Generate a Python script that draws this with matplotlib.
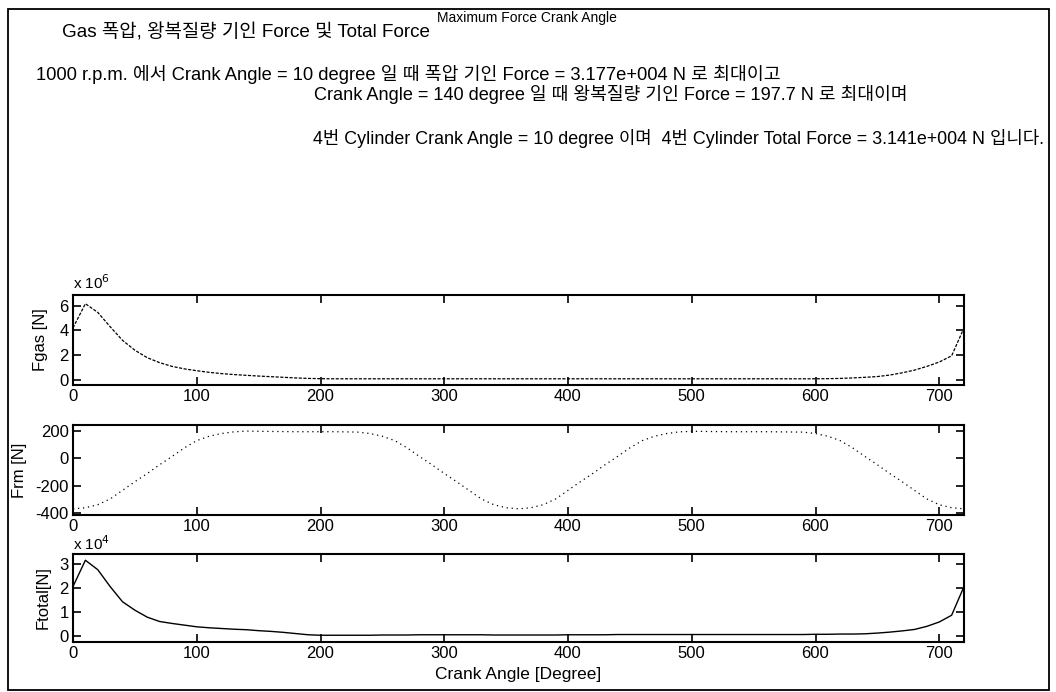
import numpy as np
import matplotlib
matplotlib.use("Agg")
import matplotlib.pyplot as plt
from matplotlib.patches import Rectangle

# ---------------- data ----------------
crank_angle = list(range(0, 721, 10))  # degree

# gas force axis values, in units of 1e6
fgas_e6 = [4.2, 6.15, 5.45, 4.3, 3.2, 2.4, 1.8, 1.4, 1.1, 0.9,
           0.75, 0.62, 0.52, 0.44, 0.38, 0.32, 0.27, 0.22, 0.17, 0.13,
           0.11, 0.10, 0.10, 0.10, 0.10, 0.10, 0.10, 0.10, 0.10, 0.10,
           0.10, 0.10, 0.10, 0.10, 0.10, 0.10, 0.10, 0.10, 0.10, 0.10,
           0.10, 0.10, 0.10, 0.10, 0.10, 0.10, 0.10, 0.10, 0.10, 0.10,
           0.10, 0.10, 0.10, 0.10, 0.10, 0.10, 0.10, 0.10, 0.10, 0.10,
           0.10, 0.11, 0.13, 0.17, 0.22, 0.28, 0.40, 0.58, 0.80, 1.10,
           1.45, 1.95, 4.2]

# reciprocating mass force [N]
frm = [-370, -362, -340, -298, -235, -172, -112, -48, 12, 75,
       128, 160, 180, 192, 197.7, 196, 195, 194, 193, 193,
       193, 193, 192, 190, 180, 160, 128, 75, 12, -48,
       -112, -172, -235, -298, -340, -362, -370, -362, -340, -298,
       -235, -172, -112, -48, 12, 75, 128, 160, 180, 192,
       196, 195, 194, 193, 193, 193, 193, 192, 191, 190,
       180, 160, 128, 75, 12, -48, -112, -172, -235, -298,
       -340, -362, -370]

# total force, in units of 1e4
ftotal_e4 = [2.05, 3.141, 2.75, 2.05, 1.42, 1.07, 0.78, 0.60, 0.52, 0.45,
             0.38, 0.34, 0.31, 0.28, 0.26, 0.22, 0.19, 0.15, 0.10, 0.05,
             0.03, 0.03, 0.03, 0.03, 0.03, 0.04, 0.04, 0.04, 0.05, 0.05,
             0.05, 0.05, 0.05, 0.05, 0.04, 0.04, 0.04, 0.04, 0.04, 0.04,
             0.05, 0.05, 0.05, 0.05, 0.06, 0.06, 0.06, 0.06, 0.06, 0.06,
             0.06, 0.06, 0.06, 0.06, 0.06, 0.06, 0.06, 0.06, 0.06, 0.06,
             0.07, 0.07, 0.08, 0.08, 0.09, 0.12, 0.16, 0.21, 0.27, 0.40,
             0.58, 0.86, 2.05]

x_ticks = [0, 100, 200, 300, 400, 500, 600, 700]
fgas_ticks = [0, 2, 4, 6]
frm_ticks = [-400, -200, 0, 200]
ftotal_ticks = [0, 1, 2, 3]

title_text = "Maximum Force Crank Angle"
line1 = "Gas 폭압, 왕복질량 기인 Force 및 Total Force"
line2 = "1000 r.p.m. 에서 Crank Angle = 10 degree 일 때 폭압 기인 Force = 3.177e+004 N 로 최대이고"
line3 = "Crank Angle = 140 degree 일 때 왕복질량 기인 Force = 197.7 N 로 최대이며"
line4 = "4번 Cylinder Crank Angle = 10 degree 이며  4번 Cylinder Total Force = 3.141e+004 N 입니다."

# ---------------- figure ----------------
W, H = 1056, 692
fam = ['Liberation Sans', 'Noto Sans CJK KR', 'DejaVu Sans']
plt.rcParams['font.family'] = fam
plt.rcParams['axes.unicode_minus'] = False

fig = plt.figure(figsize=(W / 100, H / 100), dpi=100)
fig.patch.set_facecolor('white')

def fx(px):
    return px / W

def fy(py):
    return 1 - py / H

# outer border
fig.patches.append(Rectangle((fx(8), fy(690)), fx(1049) - fx(8), fy(9) - fy(690),
                             transform=fig.transFigure, fill=False,
                             edgecolor='black', linewidth=1.3))

fig.text(fx(527), fy(18), title_text, ha='center', va='center', fontsize=10, family=fam)
fig.text(fx(62), fy(32), line1, ha='left', va='center', fontsize=13.6, family=fam)
fig.text(fx(36), fy(75), line2, ha='left', va='center', fontsize=13.2, family=fam)
fig.text(fx(314), fy(95), line3, ha='left', va='center', fontsize=13.1, family=fam)
fig.text(fx(313), fy(139), line4, ha='left', va='center', fontsize=12.85, family=fam)

left = fx(73)
width = fx(964) - fx(73)
AXW = 964 - 73

def make_ax(top_px, bot_px):
    ax = fig.add_axes([left, fy(bot_px), width, fy(top_px) - fy(bot_px)])
    ax.set_xlim(0, 720)
    ax.set_xticks(x_ticks)
    ax.tick_params(direction='in', length=6, width=1.2, top=True, right=True,
                   labelsize=12, pad=3)
    for s in ax.spines.values():
        s.set_linewidth(1.5)
    return ax

def ylab(ax, text, px):
    ax.set_ylabel(text, fontsize=12)
    ax.yaxis.set_label_coords((px - 73) / AXW, 0.5)

ax1 = make_ax(295, 385)
ax1.plot(crank_angle, fgas_e6, color='black', linewidth=0.9, linestyle=(0, (2.5, 1.2)))
ax1.set_ylim(-0.4, 6.85)
ax1.set_yticks(fgas_ticks)
ylab(ax1, "Fgas [N]", 48)
ax1.text(0.0, 1.03, r"x 10$^{6}$", transform=ax1.transAxes, ha='left', va='bottom', fontsize=11)

ax2 = make_ax(425, 515)
ax2.plot(crank_angle, frm, color='black', linewidth=0.9, linestyle=(0, (1, 3)))
ax2.set_ylim(-415, 242)
ax2.set_yticks(frm_ticks)
ylab(ax2, "Frm [N]", 27)

ax3 = make_ax(554, 642)
ax3.plot(crank_angle, ftotal_e4, color='black', linewidth=1.0, linestyle='-')
ax3.set_ylim(-0.25, 3.4)
ax3.set_yticks(ftotal_ticks)
ylab(ax3, "Ftotal[N]", 51)
ax3.text(0.0, 1.015, r"x 10$^{4}$", transform=ax3.transAxes, ha='left', va='bottom', fontsize=11)
ax3.set_xlabel("Crank Angle [Degree]", fontsize=12.5, labelpad=4)

fig.savefig("out.png", dpi=100, facecolor='white')
